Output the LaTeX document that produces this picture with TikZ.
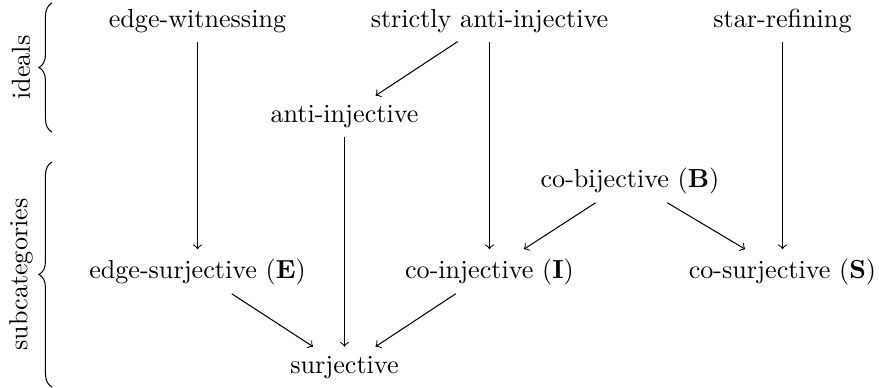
\documentclass[tikz,border=0pt]{standalone}
\usetikzlibrary{decorations.pathreplacing}
\begin{document}
\begin{tikzpicture}[x=0.383pt,y=-0.383pt,
  lbl/.style={anchor=base},
  arr/.style={->},
  brc/.style={decorate,decoration={brace,amplitude=5pt}}]
\useasboundingbox (0,0) rectangle (879,387);
% nodes
\node[lbl] (ew)  at (197.5,27)   {edge-witnessing};
\node[lbl] (sai) at (489.5,27) {strictly anti-injective};
\node[lbl] (sr)  at (782.5,27)   {star-refining};
\node[lbl] (ai)  at (344.5,122)  {anti-injective};
\node[lbl] (cb)  at (630,187)  {co-bijective (\textbf{B})};
\node[lbl] (es)  at (197.5,278)  {edge-surjective (\textbf{E})};
\node[lbl] (ci)  at (489.5,278){co-injective (\textbf{I})};
\node[lbl] (cs)  at (782.5,278)  {co-surjective (\textbf{S})};
\node[lbl] (su)  at (344.5,373)  {surjective};
% arrows
\draw[arr] (ew) -- (es);
\draw[arr] (sai) -- (ai);
\draw[arr] (sai) -- (ci);
\draw[arr] (sr) -- (cs);
\draw[arr] (ai) -- (su);
\draw[arr] (cb) -- (ci);
\draw[arr] (cb) -- (cs);
\draw[arr] (es) -- (su);
\draw[arr] (ci) -- (su);
% braces
\coordinate (b1a) at (52,132);
\coordinate (b1b) at (52,3);
\coordinate (b2a) at (52,387);
\coordinate (b2b) at (52,162);
\draw[brc] (b1a) -- (b1b);
\draw[brc] (b2a) -- (b2b);
\node[rotate=90] (lid) at (21,67.5) {ideals};
\node[rotate=90] (lsc) at (21,274.5) {subcategories};
\end{tikzpicture}
\end{document}
